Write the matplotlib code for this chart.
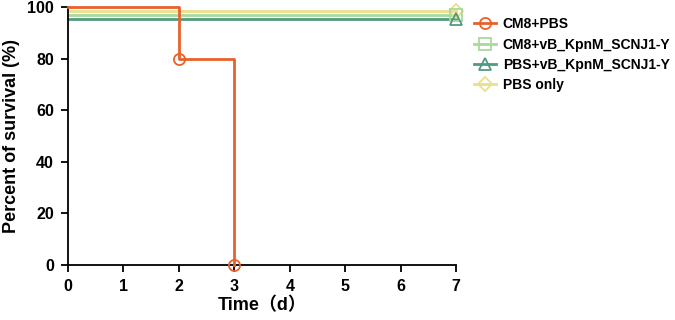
import matplotlib
matplotlib.use("Agg")
import matplotlib.pyplot as plt
from matplotlib.lines import Line2D

plt.rcParams['font.family'] = ['Liberation Sans', 'Noto Sans CJK SC', 'DejaVu Sans']
plt.rcParams['font.weight'] = 'bold'

groups = ["CM8+PBS", "CM8+vB_KpnM_SCNJ1-Y", "PBS+vB_KpnM_SCNJ1-Y", "PBS only"]
times = [[0, 2, 3], [0, 7], [0, 7], [0, 7]]
survival = [[100, 80, 0], [97, 97], [95.5, 95.5], [98.5, 98.5]]
colors = ["#E8612C", "#A9D99B", "#4F9B82", "#E8E08C"]
markers = ["o", "s", "^", "D"]
msizes = [8, 8, 8, 7]
xticks = [0, 1, 2, 3, 4, 5, 6, 7]
yticks = [0, 20, 40, 60, 80, 100]

fig = plt.figure(figsize=(6.75, 3.2), dpi=100)
ax = fig.add_axes([0.1007, 0.172, 0.575, 0.806])

order = [3, 1, 2, 0]
for i in order:
    ax.plot(times[i], survival[i], drawstyle='steps-post', color=colors[i], lw=2,
            clip_on=False, zorder=2 + (i == 0))
    ax.plot(times[i][1:], survival[i][1:], linestyle='none', marker=markers[i],
            markersize=msizes[i], markerfacecolor='none', markeredgecolor=colors[i],
            markeredgewidth=1.3, clip_on=False, zorder=4)

ax.set_xlim(0, 7)
ax.set_ylim(0, 100)
ax.set_xticks(xticks)
ax.set_yticks(yticks)
for s in ['top', 'right']:
    ax.spines[s].set_visible(False)
for s in ['left', 'bottom']:
    ax.spines[s].set_linewidth(1.3)
ax.tick_params(direction='out', length=5, width=1.3, labelsize=11.5, pad=5)
for lab in ax.get_xticklabels() + ax.get_yticklabels():
    lab.set_fontweight('bold')
ax.set_xlabel("Time（d）", fontsize=13, fontweight='bold', labelpad=2)
ax.set_ylabel("Percent of survival (%)", fontsize=13, fontweight='bold', labelpad=5)

handles = [Line2D([0], [0], color=colors[i], lw=2, marker=markers[i], markersize=msizes[i],
                  markerfacecolor='none', markeredgecolor=colors[i], markeredgewidth=1.3)
           for i in range(4)]
fig.legend(handles, groups, loc='upper left', bbox_to_anchor=(0.683, 0.985), frameon=False,
           prop={'weight': 'bold', 'size': 10}, handlelength=1.6,
           labelspacing=0.45, handletextpad=0.5)

fig.savefig("out.png", dpi=100)
